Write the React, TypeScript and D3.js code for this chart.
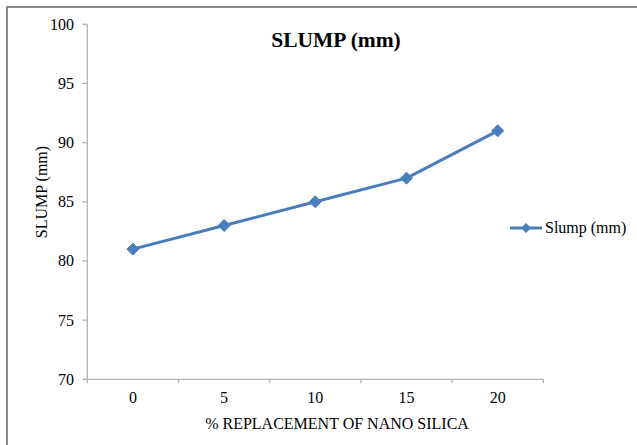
import React from "react";
import * as d3 from "d3";

const categories: string[] = ["0", "5", "10", "15", "20"];
const slumpValues: number[] = [81, 83, 85, 87, 91];
const yTicks: number[] = [70, 75, 80, 85, 90, 95, 100];
const seriesName = "Slump (mm)";
const chartTitle = "SLUMP (mm)";
const xTitle = "% REPLACEMENT OF NANO SILICA";
const yTitle = "SLUMP (mm)";

const W = 637;
const H = 445;
const LEFT = 87.3;
const RIGHT = 543.3;
const TOP = 24.3;
const BOTTOM = 379.3;
const BLUE = "#4a7ebb";
const AXIS = "#b3b3b3";
const FONT = "'Liberation Serif', 'Times New Roman', serif";
const txt = { fontFamily: FONT };
const FS = 16;

function Diamond({ cx, cy, r }: { cx: number; cy: number; r: number }) {
  const p = d3.path();
  p.moveTo(cx, cy - r);
  p.lineTo(cx + r, cy);
  p.lineTo(cx, cy + r);
  p.lineTo(cx - r, cy);
  p.closePath();
  return <path d={p.toString()} fill={BLUE} stroke={BLUE} strokeWidth={1} />;
}

export default function App() {
  const x = d3.scaleBand<string>().domain(categories).range([LEFT, RIGHT]).padding(0);
  const y = d3.scaleLinear().domain([70, 100]).range([BOTTOM, TOP]);
  const cx = (c: string) => (x(c) as number) + x.bandwidth() / 2;
  const line = d3
    .line<number>()
    .x((_, i) => cx(categories[i]))
    .y((v) => y(v));
  const boundaries = categories.map((c) => x(c) as number).concat([RIGHT]);

  return (
    <div style={{ position: "fixed", left: 0, top: 0 }}>
      <svg width={W} height={H} style={{ display: "block" }}>
        <rect x={0} y={0} width={W} height={H} fill="#fff" />
        <rect x={7} y={7} width={W + 20} height={H + 20} fill="none" stroke="#8a8a8a" strokeWidth={2} />
        {/* y axis */}
        <line x1={LEFT} x2={LEFT} y1={TOP} y2={BOTTOM} stroke={AXIS} strokeWidth={1.3} />
        {yTicks.map((t) => (
          <g key={t}>
            <line x1={LEFT - 5} x2={LEFT} y1={y(t)} y2={y(t)} stroke={AXIS} strokeWidth={1.3} />
            <text x={74} y={y(t) + 5.5} textAnchor="end" fontSize={FS} fill="#000" style={txt}>
              {t}
            </text>
          </g>
        ))}
        {/* x axis */}
        <line x1={LEFT} x2={RIGHT} y1={BOTTOM} y2={BOTTOM} stroke={AXIS} strokeWidth={1.3} />
        {boundaries.map((b, i) => (
          <line key={i} x1={b} x2={b} y1={BOTTOM} y2={BOTTOM + 4} stroke={AXIS} strokeWidth={1.3} />
        ))}
        {categories.map((c) => (
          <text key={c} x={cx(c)} y={403} textAnchor="middle" fontSize={FS} fill="#000" style={txt}>
            {c}
          </text>
        ))}
        <text x={337} y={429} textAnchor="middle" fontSize={FS} fill="#000" style={txt}>
          {xTitle}
        </text>
        <text
          transform={`translate(47,192) rotate(-90)`}
          textAnchor="middle"
          fontSize={FS}
          fill="#000"
          style={txt}
        >
          {yTitle}
        </text>
        <text x={336} y={47} textAnchor="middle" fontSize={21.5} fontWeight="bold" fill="#000" style={txt}>
          {chartTitle}
        </text>
        {/* series */}
        <path d={line(slumpValues) || ""} fill="none" stroke={BLUE} strokeWidth={3} strokeLinejoin="round" />
        {slumpValues.map((v, i) => (
          <Diamond key={i} cx={cx(categories[i])} cy={y(v)} r={6} />
        ))}
        {/* legend */}
        <line x1={510} x2={542} y1={228} y2={228} stroke={BLUE} strokeWidth={3} />
        <Diamond cx={526} cy={228} r={4.5} />
        <text x={545} y={233} fontSize={FS} fill="#000" style={txt}>
          {seriesName}
        </text>
      </svg>
    </div>
  );
}
